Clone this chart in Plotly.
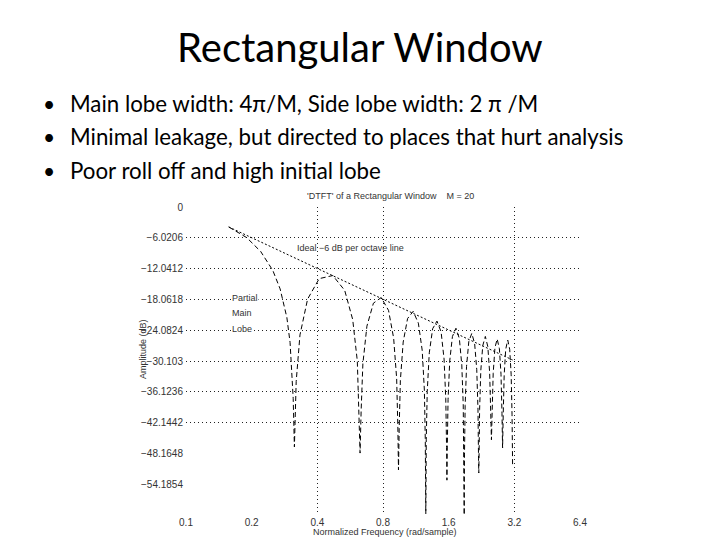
import plotly.graph_objects as go

# ---------------- data ----------------
x_tick_vals = [0.1, 0.2, 0.4, 0.8, 1.6, 3.2, 6.4]
x_tick_text = ["0.1", "0.2", "0.4", "0.8", "1.6", "3.2", "6.4"]
y_tick_vals = [0, -6.0206, -12.0412, -18.0618, -24.0824, -30.103, -36.1236, -42.1442, -48.1648, -54.1854]
y_tick_text = ["0", "\u22126.0206", "\u221212.0412", "\u221218.0618", "\u221224.0824", "\u221230.103",
               "\u221236.1236", "\u221242.1442", "\u221248.1648", "\u221254.1854"]
grid_x_vals = [0.4, 0.8, 3.2]
grid_y_vals = [-6.0206, -12.0412, -18.0618, -24.0824, -30.103, -36.1236, -42.1442]

# partial main lobe (rad/sample, dB)
main_lobe_freq = [0.157, 0.19, 0.22, 0.25, 0.27, 0.29, 0.30, 0.31, 0.314]
main_lobe_db = [-3.9, -6.0, -8.7, -12.4, -16.0, -21.6, -26.5, -37.4, -46.9]

# side lobes, one list per lobe (each ends at its right-hand null)
side_lobe_freq = [
    [0.320, 0.333, 0.361, 0.408, 0.471, 0.534, 0.581, 0.610, 0.622, 0.628],
    [0.635, 0.647, 0.675, 0.723, 0.785, 0.848, 0.895, 0.924, 0.936, 0.942],
    [0.949, 0.961, 0.990, 1.037, 1.100, 1.162, 1.210, 1.238, 1.250, 1.257],
    [1.263, 1.276, 1.304, 1.351, 1.414, 1.477, 1.524, 1.552, 1.565, 1.571],
    [1.577, 1.590, 1.618, 1.665, 1.728, 1.791, 1.838, 1.866, 1.879, 1.885],
    [1.891, 1.904, 1.932, 1.979, 2.042, 2.105, 2.152, 2.180, 2.193, 2.199],
    [2.205, 2.218, 2.246, 2.293, 2.356, 2.419, 2.466, 2.494, 2.513],
    [2.532, 2.560, 2.608, 2.670, 2.733, 2.780, 2.809, 2.827],
    [2.846, 2.875, 2.922, 2.985, 3.047, 3.095, 3.123, 3.135, 3.142],
]
side_lobe_db = [
    [-34.1, -25.0, -18.0, -14.0, -13.4, -16.3, -22.0, -30.1, -39.8, -48.1],
    [-39.9, -30.6, -23.3, -18.8, -17.7, -20.2, -25.6, -33.5, -43.2, -51.4],
    [-43.3, -33.9, -26.4, -21.8, -20.4, -22.7, -28.0, -35.8, -45.4, -60.0],
    [-45.5, -36.1, -28.5, -23.8, -22.3, -24.4, -29.7, -37.5, -47.0, -53.4],
    [-47.1, -37.6, -30.1, -25.3, -23.7, -25.7, -30.9, -38.7, -48.2, -60.2],
    [-48.3, -38.8, -31.2, -26.3, -24.7, -26.7, -31.8, -39.5, -49.1, -52.0],
    [-49.1, -39.6, -32.0, -27.1, -25.3, -27.3, -32.4, -40.1, -45.5],
    [-40.1, -32.5, -27.5, -25.8, -27.7, -32.7, -40.4, -47.1],
    [-40.5, -32.8, -27.8, -26.0, -27.8, -32.8, -40.5, -50.1, -50.4],
]

# ideal -6 dB per octave line
ideal_freq = [0.157, 3.142]
ideal_db = [-3.9, -29.9]

slide_title = "Rectangular Window"
bullets = [
    "Main lobe width: 4\u03c0/M, Side lobe width: 2 \u03c0 /M",
    "Minimal leakage, but directed to places that hurt analysis",
    "Poor roll off and high initial lobe",
]
chart_title = "'DTFT' of a Rectangular Window    M = 20"

# ---------------- figure ----------------
W, H = 720, 540
OFF = 8  # page body margin offset of the rendered figure
PX_L, PX_R, PX_T, PX_B = 186, 580, 207, 515


def px(x):
    return (x - OFF) / W


def py(y):
    return 1 - (y - OFF) / H


dtft_freq = list(main_lobe_freq)
dtft_db = list(main_lobe_db)
for f, d in zip(side_lobe_freq, side_lobe_db):
    dtft_freq += f
    dtft_db += d

fig = go.Figure()
fig.add_trace(go.Scatter(x=dtft_freq, y=dtft_db, mode="lines", xaxis="x", yaxis="y",
                         line=dict(color="black", width=1, dash="5px,3px"),
                         showlegend=False, hoverinfo="skip"))
fig.add_trace(go.Scatter(x=ideal_freq, y=ideal_db, mode="lines", xaxis="x2", yaxis="y2",
                         line=dict(color="black", width=1, dash="2px,2px"),
                         showlegend=False, hoverinfo="skip"))

chart_font = dict(family="Liberation Sans, Arial, sans-serif", size=10, color="#333")
xr = [-1, 0.80618]  # log10(0.1) .. log10(6.4)
yr = [-60.206, 0]

fig.update_layout(
    width=W, height=H,
    margin=dict(l=0, r=0, t=0, b=0, pad=0, autoexpand=False),
    paper_bgcolor="white", plot_bgcolor="white",
    showlegend=False,
    xaxis=dict(domain=[px(PX_L), px(PX_R)], type="log", range=xr, automargin=False,
               tickmode="array", tickvals=x_tick_vals, ticktext=x_tick_text,
               showgrid=False, zeroline=False, showline=False, ticks="",
               tickfont=chart_font, anchor="y"),
    yaxis=dict(domain=[py(PX_B), py(PX_T)], range=yr, automargin=False,
               tickmode="array", tickvals=y_tick_vals, ticktext=y_tick_text,
               showgrid=False, zeroline=False, showline=False, ticks="",
               tickfont=chart_font, anchor="x", ticklabelstandoff=2),
    xaxis2=dict(overlaying="x", type="log", range=xr, anchor="y2", automargin=False,
                tickmode="array", tickvals=grid_x_vals, showticklabels=False,
                showgrid=True, gridcolor="#222", gridwidth=1, griddash="1px,3px",
                zeroline=False, showline=False, ticks=""),
    yaxis2=dict(overlaying="y", range=yr, anchor="x2", automargin=False,
                tickmode="array", tickvals=grid_y_vals, showticklabels=False,
                showgrid=True, gridcolor="#222", gridwidth=1, griddash="1px,3px",
                zeroline=False, showline=False, ticks=""),
)

slide_font = "Lato, Carlito, Calibri, sans-serif"
ann = []
ann.append(dict(text=slide_title, x=px(360), y=py(47), xref="paper", yref="paper",
                xanchor="center", yanchor="middle", showarrow=False,
                font=dict(family=slide_font, size=40, color="black")))
for i, b in enumerate(bullets):
    yy = 103 + i * 33.5
    ann.append(dict(text="\u2022", x=px(49), y=py(yy), xref="paper", yref="paper",
                    xanchor="center", yanchor="middle", showarrow=False,
                    font=dict(family=slide_font, size=21, color="black")))
    ann.append(dict(text=b, x=px(68), y=py(yy), xref="paper", yref="paper",
                    xanchor="left", yanchor="middle", showarrow=False,
                    font=dict(family=slide_font, size=22.3, color="black")))

small = dict(family="Liberation Sans, Arial, sans-serif", size=9, color="#333")
ann.append(dict(text=chart_title, x=px(390), y=py(196), xref="paper", yref="paper",
                xanchor="center", yanchor="middle", showarrow=False, font=small))
ann.append(dict(text="Ideal \u22126 dB per octave line", x=px(295), y=py(248), xref="paper", yref="paper",
                xanchor="left", yanchor="middle", showarrow=False, font=small))
for txt, yy in [("Partial", 298), ("Main", 313), ("Lobe", 329)]:
    ann.append(dict(text=txt, x=px(231), y=py(yy), xref="paper", yref="paper",
                    xanchor="left", yanchor="middle", showarrow=False, font=small,
                    bgcolor="white", borderpad=0))
ann.append(dict(text="Amplitude (dB)", x=px(143), y=py(349), xref="paper", yref="paper",
                xanchor="center", yanchor="middle", textangle=-90, showarrow=False, font=small))
ann.append(dict(text="Normalized Frequency (rad/sample)", x=px(385), y=py(532), xref="paper", yref="paper",
                xanchor="center", yanchor="middle", showarrow=False, font=small))
fig.update_layout(annotations=ann)

fig.write_html("out.html")
